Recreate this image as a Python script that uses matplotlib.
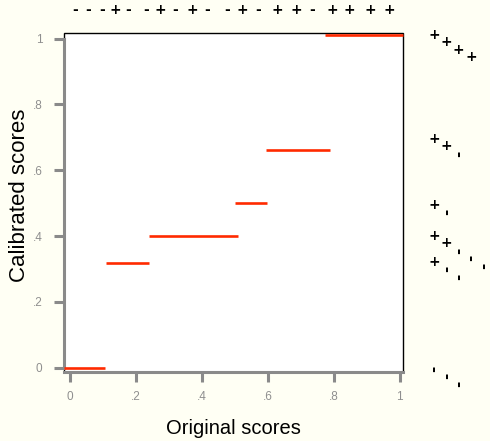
import matplotlib.pyplot as plt
from matplotlib.patches import Rectangle

# step function of the calibration (start, end, calibrated value)
step_start = [-0.018, 0.108, 0.239, 0.500, 0.594, 0.773]
step_end = [0.106, 0.240, 0.509, 0.597, 0.788, 1.010]
step_value = [0.0, 0.318, 0.401, 0.500, 0.663, 1.010]

# original scores shown along the top, with their class
score_x = [0.015, 0.055, 0.097, 0.139, 0.176, 0.230, 0.273, 0.318, 0.370, 0.415,
           0.476, 0.524, 0.570, 0.630, 0.688, 0.736, 0.797, 0.848, 0.912, 0.970]
score_sign = list("---+--+-+--+-++-++++")

# calibrated groups on the right side
group_y = [1.012, 0.696, 0.495, 0.401, 0.322, -0.003]
group_signs = ["++++", "++-", "+-", "++---", "+--", "---"]

xticks = [0, 0.2, 0.4, 0.6, 0.8, 1]
xtick_labels = ["0", ".2", ".4", ".6", ".8", "1"]
yticks = [0, 0.2, 0.4, 0.6, 0.8, 1]
ytick_labels = ["0", ".2", ".4", ".6", ".8", "1"]

plt.rcParams['font.family'] = ['Liberation Sans', 'DejaVu Sans']

fig = plt.figure(figsize=(4.9, 4.41), dpi=100, facecolor='#fffff4')
ax = fig.add_axes([64/490, 1 - 372/441, 339/490, 339/441])
ax.set_facecolor('white')
ax.set_xlim(-0.0182, 1.0106)
ax.set_ylim(-0.013, 1.017)

ax.hlines(step_value, step_start, step_end, colors='#ff2a00', lw=1.9, zorder=3, clip_on=False)

# black frame under the grey axis lines
ax.add_patch(Rectangle((0, 0), 1, 1, transform=ax.transAxes, fill=False,
                       ec='black', lw=1, zorder=1, clip_on=False))
for side in ['top', 'right']:
    ax.spines[side].set_visible(False)
grey = '#8a8a8a'
for side in ['left', 'bottom']:
    ax.spines[side].set_color(grey)
    ax.spines[side].set_linewidth(2.2)
ax.spines['left'].set_bounds(0, 1)

ax.set_xticks(xticks)
ax.set_xticklabels(xtick_labels)
ax.set_yticks(yticks)
ax.set_yticklabels(ytick_labels)
ax.tick_params(direction='out', length=7.5, width=2.2, color=grey,
               labelcolor='#8f8f8f', labelsize=8.5)
ax.tick_params(axis='x', pad=6)
ax.tick_params(axis='y', pad=8)

ax.set_xlabel("Original scores", fontsize=14.5)
ax.set_ylabel("Calibrated scores", fontsize=16)
ax.xaxis.set_label_coords(0.5, -0.14)
ax.yaxis.set_label_coords(-0.1, 0.52)

for x, s in zip(score_x, score_sign):
    ax.annotate(s, xy=(x, 1), xycoords=('data', 'axes fraction'),
                xytext=(0, 16.5), textcoords='offset points',
                ha='center', va='center', fontsize=10, fontweight='bold',
                family='DejaVu Sans')

for gy, signs in zip(group_y, group_signs):
    for k, s in enumerate(signs):
        ax.annotate(s, xy=(1, gy), xycoords=('axes fraction', 'data'),
                    xytext=(22.3 + 8.9*k, -5.4*k), textcoords='offset points',
                    ha='center', va='center', fontweight='bold',
                    fontsize=11 if s == '-' else 10,
                    family='DejaVu Sans', rotation=90 if s == '-' else 0)

fig.savefig('out.png', dpi=100, facecolor=fig.get_facecolor())
